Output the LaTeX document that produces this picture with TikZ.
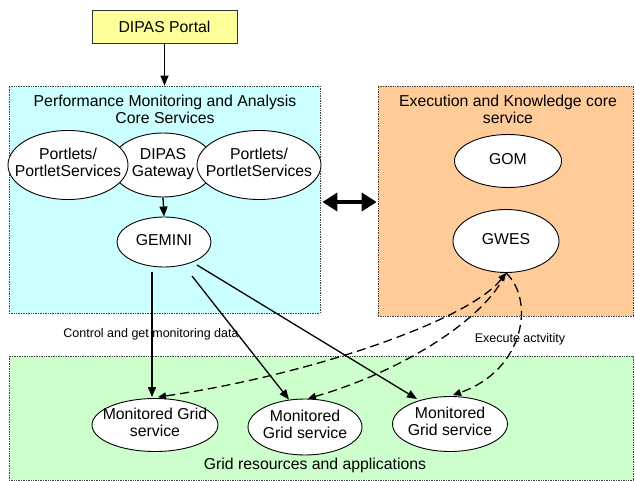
\documentclass[tikz,border=0pt]{standalone}
\usepackage{fontspec}
\setmainfont{Liberation Sans}
\usetikzlibrary{arrows.meta,shapes.geometric}
\definecolor{portalY}{HTML}{FFFF99}
\definecolor{pmaC}{HTML}{CCFFFF}
\definecolor{ekcO}{HTML}{FFCC99}
\definecolor{gridG}{HTML}{CCFFCC}
\newcommand{\ztxt}[1]{\makebox[0pt]{\begin{tabular}{@{}c@{}}#1\end{tabular}}}
\begin{document}
\begin{tikzpicture}[x=1pt,y=-1pt,
 big/.style={font=\fontsize{15.8}{17}\selectfont},
 small/.style={font=\fontsize{12.5}{14}\selectfont},
 group/.style={rectangle, draw=black!75, densely dotted, line width=0.7pt, inner sep=0pt},
 ell/.style={ellipse, draw, fill=white, line width=0.9pt, inner sep=0pt, big},
 arr/.style={-{Triangle[length=10pt,width=8pt]}, line width=1.3pt},
 darr/.style={-{Triangle[length=8pt,width=7pt]}, line width=1.3pt, dash pattern=on 9pt off 5pt},
 title/.style={big, align=center, inner sep=0pt},
]
\useasboundingbox (0,0) rectangle (635,481);

% groups
\node[group, fill=pmaC, minimum width=311pt, minimum height=227pt] (pma) at (164.5,199.5) {};
\node[group, fill=ekcO, minimum width=255pt, minimum height=230pt] (ekc) at (505.5,201) {};
\node[group, fill=gridG, minimum width=624pt, minimum height=124pt] (grid) at (321,418) {};

% portal
\node[rectangle, draw=black!80, fill=portalY, line width=0.8pt, minimum width=145pt, minimum height=33pt, big] (portal) at (164.5,26.5) {DIPAS Portal};

% titles
\node[title] (pmatitle) at (165,109) {Performance Monitoring and Analysis\\Core Services};
\node[title] (ekctitle) at (508,109) {Execution and Knowledge core\\service};
\node[title] (gridtitle) at (315,465) {Grid resources and applications};

% ellipses
\node[ell, minimum width=104pt, minimum height=64pt] (gw) at (163,165) {\ztxt{DIPAS\\Gateway}};
\node[ell, minimum width=120pt, minimum height=69pt] (pl1) at (68,165) {\ztxt{Portlets/\\PortletServices}};
\node[ell, minimum width=124pt, minimum height=69pt] (pl2) at (259,165) {\ztxt{Portlets/\\PortletServices}};
\node[ell, minimum width=94pt, minimum height=50pt] (gemini) at (164,242) {\ztxt{GEMINI}};
\node[ell, minimum width=107pt, minimum height=53pt] (gom) at (508,161) {\ztxt{GOM}};
\node[ell, minimum width=106pt, minimum height=63pt] (gwes) at (506,241) {\ztxt{GWES}};
\node[ell, minimum width=126pt, minimum height=53pt] (ms1) at (155,425) {\ztxt{Monitored Grid\\service}};
\node[ell, minimum width=114pt, minimum height=56pt] (ms2) at (305,427) {\ztxt{Monitored\\Grid service}};
\node[ell, minimum width=115pt, minimum height=55pt] (ms3) at (450,424) {\ztxt{Monitored\\Grid service}};

% labels
\node[small, inner sep=0pt] (ctrl) at (151,334) {Control and get monitoring data};
\node[small, inner sep=0pt] (exec) at (520,339) {Execute actvitity};

% connectors
\draw[arr] (portal.south) -- (pma.north);
\draw[arr] (gw.south) -- (gemini.north);
\draw[arr] ([xshift=-12pt,yshift=-5pt]gemini.south) -- ([xshift=-3pt,yshift=1pt]ms1.north);
\draw[arr] ([xshift=28pt,yshift=-34pt]gemini.center) -- ([xshift=-16pt,yshift=-1pt]ms2.north);
\draw[arr] ([xshift=33pt,yshift=-23pt]gemini.center) -- ([xshift=-33pt,yshift=25pt]ms3.center);
\draw[{Triangle[length=15pt,width=18pt]}-{Triangle[length=15pt,width=18pt]}, line width=3.8pt]
  ([xshift=2pt,yshift=-2.5pt]pma.east) -- ([xshift=-1pt,yshift=-1pt]ekc.west);

\draw[darr, {Triangle[length=8pt,width=7pt]}-{Triangle[length=8pt,width=7pt]}] (gwes.south) .. controls (470,320) and (310,375) .. ([xshift=3pt,yshift=1pt]ms1.north);
\draw[darr] (gwes.south) .. controls (485,320) and (400,372) .. ([xshift=3pt]ms2.north);
\draw[darr] (gwes.south) .. controls (535,300) and (525,370) .. ([xshift=3pt,yshift=1pt]ms3.north);
\end{tikzpicture}
\end{document}
